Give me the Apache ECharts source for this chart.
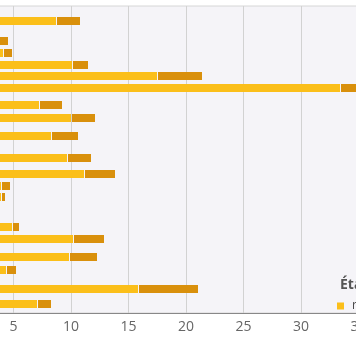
<!DOCTYPE html>
<html>
<head>
<meta charset="utf-8">
<script src="https://cdn.jsdelivr.net/npm/echarts@6/dist/echarts.min.js"></script>
<style>
html,body{margin:0;padding:0;background:#fff;overflow:hidden;width:356px;height:364px;}
#c{position:absolute;left:-100px;top:0;width:600px;height:364px;}
</style>
</head>
<body>
<div id="c"></div>
<script>
// Row positions along the vertical axis
const rowPos = [1.28, 2.99, 4.02, 5.04, 5.98, 7.01, 8.46, 9.57, 11.11, 12.99, 14.40, 15.38, 16.32, 18.89, 19.91, 21.45, 22.56, 24.23, 25.43];
// First segment (yellow) values
const realise = [8.7, 3.7, 4.1, 10.1, 17.5, 33.4, 7.2, 10.0, 8.25, 9.65, 11.1, 3.9, 3.9, 4.9, 10.2, 9.85, 4.35, 15.8, 7.05];
// Totals (end of dark segment)
const totals = [10.8, 4.55, 4.9, 11.5, 21.4, 35.6, 9.2, 12.1, 10.6, 11.75, 13.8, 4.72, 4.3, 5.5, 12.9, 12.25, 5.2, 21.0, 8.3];
const seriesNames = ['réalisé', 'restant'];
const xTicks = [0, 5, 10, 15, 20, 25, 30, 35, 40];
const legendTitle = 'État';
const colors = ['#fbbf1a', '#d9900c'];

const chart = echarts.init(document.getElementById('c'));
// [start, end, position]
const seg1 = rowPos.map((p, i) => [0, realise[i], p]);
const seg2 = rowPos.map((p, i) => [realise[i], totals[i], p]);
function renderBar(params, api) {
  const a = api.coord([api.value(0), api.value(2)]);
  const b = api.coord([api.value(1), api.value(2)]);
  const h = 8;
  const x0 = Math.round(a[0]) + (api.value(0) > 0 ? 1 : 0);
  return {
    type: 'rect',
    shape: {x: x0, y: Math.round(a[1] - h / 2), width: Math.max(0, Math.round(b[0]) - x0), height: h},
    style: {fill: api.visual('color')}
  };
}
chart.setOption({
  animation: false,
  backgroundColor: '#fff',
  color: colors,
  textStyle: {fontFamily: 'Open Sans'},
  title: {
    text: legendTitle, left: 435, top: 273,
    textStyle: {fontSize: 14, fontWeight: 'bold', color: '#555', fontFamily: 'Open Sans'}
  },
  legend: {
    data: seriesNames, left: 432, top: 295, icon: 'rect', itemWidth: 7, itemHeight: 7,
    itemGap: 20, textStyle: {fontSize: 12, color: '#444', padding: [0, 0, 0, 3]}
  },
  grid: {
    left: 56, right: 84, top: 6, bottom: 51, show: true,
    backgroundColor: '#f5f4f8', borderColor: '#d6d6d6', borderWidth: 1
  },
  xAxis: {
    type: 'value', min: xTicks[0], max: xTicks[xTicks.length - 1], interval: 5,
    axisLine: {show: true, onZero: false, lineStyle: {color: '#888', width: 1}},
    axisTick: {show: false},
    axisLabel: {fontSize: 14, color: '#666', margin: 7},
    splitLine: {show: true, lineStyle: {color: '#d2d2d2', width: 1}}
  },
  yAxis: {
    type: 'value', min: 0, max: 26.24, inverse: true,
    axisLine: {show: false}, axisTick: {show: false}, axisLabel: {show: false},
    splitLine: {show: false}
  },
  series: [
    {name: seriesNames[0], type: 'custom', renderItem: renderBar, data: seg1,
     encode: {x: [0, 1], y: 2}, itemStyle: {color: colors[0]}},
    {name: seriesNames[1], type: 'custom', renderItem: renderBar, data: seg2,
     encode: {x: [0, 1], y: 2}, itemStyle: {color: colors[1]}}
  ]
});
</script>
</body>
</html>
